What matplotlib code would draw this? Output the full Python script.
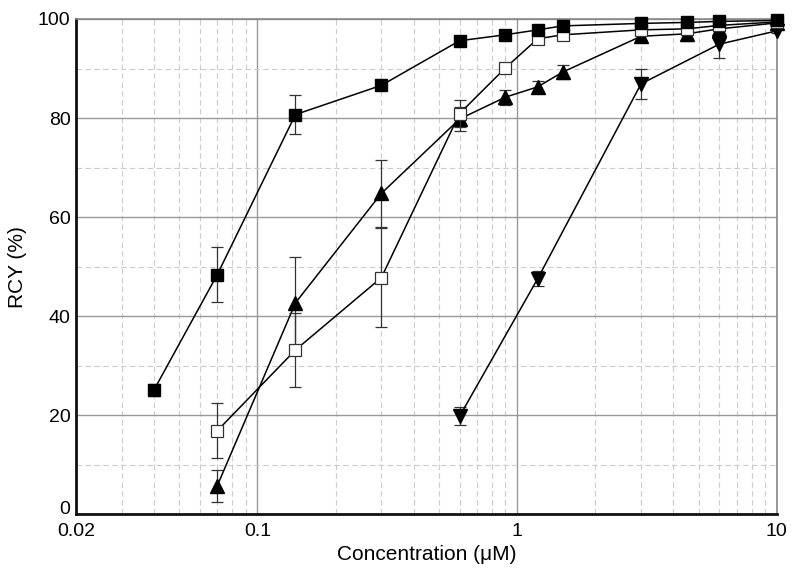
import numpy as np
import matplotlib.pyplot as plt
import matplotlib.transforms as mtransforms
from matplotlib.ticker import FixedLocator, NullFormatter

plt.rcParams['font.family'] = ['Liberation Sans', 'DejaVu Sans']

# filled squares
x_fsq = [0.04, 0.07, 0.14, 0.3, 0.6, 0.9, 1.2, 1.5, 3, 4.5, 6, 10]
y_fsq = [25.2, 48.4, 80.7, 86.6, 95.6, 96.8, 97.8, 98.6, 99.1, 99.3, 99.5, 99.7]
e_fsq = [1.2, 5.5, 4.0, 0.5, 0.5, 0.5, 0.5, 0.5, 0.5, 0.5, 0.5, 0.3]

# open squares
x_osq = [0.07, 0.14, 0.3, 0.6, 0.9, 1.2, 1.5, 3, 4.5, 6, 10]
y_osq = [16.9, 33.2, 47.8, 80.9, 90.1, 96.0, 96.8, 97.8, 98.0, 98.7, 99.4]
e_osq = [5.5, 7.5, 10.0, 2.8, 0.5, 0.5, 0.5, 0.5, 0.5, 0.5, 0.3]

# triangles up
x_tup = [0.07, 0.14, 0.3, 0.6, 0.9, 1.2, 1.5, 3, 4.5, 6, 10]
y_tup = [5.8, 42.7, 64.8, 79.8, 84.2, 86.3, 89.3, 96.5, 97.0, 98.0, 99.2]
e_tup = [3.2, 9.3, 6.7, 2.5, 1.5, 1.2, 1.5, 0.8, 1.5, 1.0, 0.5]

# triangles down
x_tdn = [0.6, 1.2, 3, 6, 10]
y_tdn = [19.8, 47.6, 86.9, 94.9, 97.6]
e_tdn = [1.8, 1.5, 3.0, 2.7, 0.5]

fig = plt.figure(figsize=(8, 5.83), dpi=100)
ax = fig.add_axes([0.095, 0.1175, 0.876, 0.85])

kw = dict(color='black', lw=1.1, elinewidth=0.9, capsize=4, capthick=0.9, ecolor='#333333')
series = [
    (x_tdn, y_tdn, e_tdn, dict(marker='v', ms=10, mfc='black', mec='black'), 3),
    (x_tup, y_tup, e_tup, dict(marker='^', ms=10, mfc='black', mec='black'), 4),
    (x_osq, y_osq, e_osq, dict(marker='s', ms=8, mfc='white', mec='#333333', mew=0.9), 5),
    (x_fsq, y_fsq, e_fsq, dict(marker='s', ms=8, mfc='black', mec='black'), 6),
]
for xs, ys, es, mk, z in series:
    line, caps, bars = ax.errorbar(xs, ys, yerr=es, zorder=z, **mk, **kw)
    line.set_clip_on(False)

ax.set_xscale('log')
ax.set_xlim(0.02, 10)
ax.set_ylim(0, 100)

ax.xaxis.set_major_locator(FixedLocator([0.02, 0.1, 1, 10]))
ax.set_xticklabels(['0.02', '0.1', '1', '10'])
minor_x = [m * d for d in (0.01, 0.1, 1) for m in range(2, 10) if 0.02 < m * d < 10]
ax.xaxis.set_minor_locator(FixedLocator(minor_x))
ax.xaxis.set_minor_formatter(NullFormatter())
ax.set_yticks([0, 20, 40, 60, 80, 100])
ax.set_yticks([10, 30, 50, 70, 90], minor=True)

ax.grid(which='minor', color='#cccccc', linestyle=(0, (5, 3)), lw=0.8)
ax.grid(which='major', color='#999999', linestyle='-', lw=1.0)
ax.set_axisbelow(True)

ax.tick_params(which='both', length=0, labelsize=14)
ax.tick_params(axis='x', pad=6)
ax.tick_params(axis='y', pad=4)

# lift the "0" label a little so it sits clear of "0.02"
fig.canvas.draw()
ylab0 = ax.get_yticklabels()[0]
ylab0.set_transform(ylab0.get_transform() + mtransforms.ScaledTranslation(0, 5 / 72, fig.dpi_scale_trans))

for s in ['left', 'bottom']:
    ax.spines[s].set_linewidth(2)
    ax.spines[s].set_color('#111111')
for s in ['top', 'right']:
    ax.spines[s].set_linewidth(1.2)
    ax.spines[s].set_color('#888888')

ax.set_xlabel('Concentration (\u03bcM)', fontsize=15, labelpad=4)
ax.set_ylabel('RCY (%)', fontsize=15, labelpad=8)

fig.savefig('out.png', dpi=100)
